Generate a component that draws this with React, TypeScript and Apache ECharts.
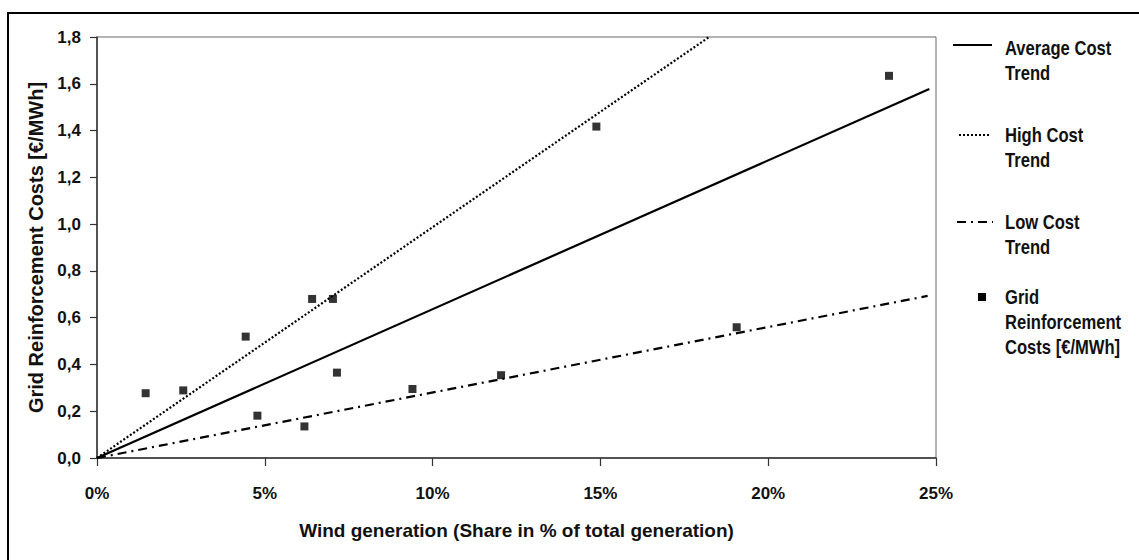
import React, { useEffect, useRef } from "react";
import * as echarts from "echarts";

// Data
const shareX: number[] = [1.45, 2.57, 4.43, 4.78, 6.18, 6.41, 7.03, 7.15, 9.4, 12.04, 14.88, 19.06, 23.6];
const costY: number[] = [0.277, 0.289, 0.519, 0.181, 0.135, 0.68, 0.68, 0.365, 0.295, 0.354, 1.417, 0.559, 1.634];
const averageTrend: number[][] = [[0, 0], [24.8, 1.578]];
const highTrend: number[][] = [[0, 0], [18.24, 1.8]];
const lowTrend: number[][] = [[0, 0], [24.75, 0.693]];
const xTicks: number[] = [0, 5, 10, 15, 20, 25];
const yTicks: number[] = [0, 0.2, 0.4, 0.6, 0.8, 1.0, 1.2, 1.4, 1.6, 1.8];
const legendNames: string[][] = [
  ["Average Cost", "Trend"],
  ["High Cost", "Trend"],
  ["Low Cost", "Trend"],
  ["Grid", "Reinforcement", "Costs [€/MWh]"],
];
const xTitle = "Wind generation (Share in % of total generation)";
const yTitle = "Grid Reinforcement Costs [€/MWh]";

const FONT = "'Liberation Sans', Arial, sans-serif";
const TXT = "#111";
const DOT: number[] = [2, 2];
const DASHDOT: number[] = [9, 5, 2, 5];

export default function App() {
  const ref = useRef<HTMLDivElement>(null);
  useEffect(() => {
    if (!ref.current) return;
    const chart = echarts.init(ref.current, undefined, { renderer: "svg" });
    const points = shareX.map((x, i) => [x, costY[i]]);
    const legendRows = [48, 135, 222, 297];
    const textEl = (t: string, y: number) => ({
      type: "text",
      x: 1005,
      y,
      scaleX: 0.83,
      style: { text: t, font: `bold 20px ${FONT}`, fill: TXT, align: "left", verticalAlign: "middle" },
    });
    const legendGraphics: any[] = [];
    legendNames.forEach((lines, i) => {
      lines.forEach((t, j) => legendGraphics.push(textEl(t, legendRows[i] + j * 25)));
    });
    const lineY = [45, 135, 222, 297];
    legendGraphics.push(
      { type: "line", shape: { x1: 953, y1: lineY[0], x2: 992, y2: lineY[0] }, style: { stroke: "#000", lineWidth: 2 } },
      { type: "line", shape: { x1: 959, y1: lineY[1], x2: 989, y2: lineY[1] }, style: { stroke: "#000", lineWidth: 2, lineDash: DOT } },
      { type: "line", shape: { x1: 957, y1: lineY[2], x2: 993, y2: lineY[2] }, style: { stroke: "#000", lineWidth: 2, lineDash: DASHDOT } },
      { type: "rect", shape: { x: 978, y: lineY[3] - 4, width: 8, height: 8 }, style: { fill: "#000" } },
      { type: "rect", shape: { x: 8, y: 13, width: 1300, height: 700 }, style: { fill: "none", stroke: "#000", lineWidth: 2 }, silent: true }
    );

    chart.setOption({
      animation: false,
      backgroundColor: "#fff",
      grid: {
        left: 97,
        right: 1139 - 936,
        top: 37,
        bottom: 560 - 458,
        show: true,
        borderColor: "#666",
        borderWidth: 1,
        backgroundColor: "transparent",
      },
      xAxis: {
        type: "value",
        min: 0,
        max: 25,
        interval: 5,
        name: xTitle,
        nameLocation: "middle",
        nameGap: 63,
        nameTextStyle: { fontFamily: FONT, fontWeight: "bold", fontSize: 19, color: TXT },
        axisLine: { show: true, lineStyle: { color: "#333", width: 1.5 } },
        axisTick: { show: true, inside: false, length: 8, lineStyle: { color: "#333", width: 1.2 } },
        axisLabel: {
          margin: 27,
          fontFamily: FONT,
          fontWeight: "bold",
          fontSize: 17,
          color: TXT,
          formatter: (v: number) => (xTicks.includes(v) ? `${v}%` : ""),
        },
        splitLine: { show: false },
      },
      yAxis: {
        type: "value",
        min: 0,
        max: 1.8,
        interval: 0.2,
        name: yTitle,
        nameLocation: "middle",
        nameGap: 50,
        nameTextStyle: { fontFamily: FONT, fontWeight: "bold", fontSize: 20, color: TXT },
        axisLine: { show: true, lineStyle: { color: "#333", width: 1.5 } },
        axisTick: { show: true, inside: false, length: 7, lineStyle: { color: "#333", width: 1.2 } },
        axisLabel: {
          margin: 16,
          fontFamily: FONT,
          fontWeight: "bold",
          fontSize: 17,
          color: TXT,
          formatter: (v: number) => {
            const t = yTicks.find((k) => Math.abs(k - v) < 1e-6);
            return t === undefined ? "" : t.toFixed(1).replace(".", ",");
          },
        },
        splitLine: { show: false },
      },
      series: [
        {
          name: "Average Cost Trend",
          type: "line",
          data: averageTrend,
          symbol: "none",
          lineStyle: { color: "#000", width: 2.2, type: "solid" },
        },
        {
          name: "High Cost Trend",
          type: "line",
          data: highTrend,
          symbol: "none",
          lineStyle: { color: "#000", width: 2.2, type: DOT },
        },
        {
          name: "Low Cost Trend",
          type: "line",
          data: lowTrend,
          symbol: "none",
          lineStyle: { color: "#000", width: 2.2, type: DASHDOT },
        },
        {
          name: "Grid Reinforcement Costs [€/MWh]",
          type: "scatter",
          data: points,
          symbol: "rect",
          symbolSize: 8,
          itemStyle: { color: "#000" },
          z: 5,
        },
      ],
      graphic: legendGraphics,
    });
    return () => chart.dispose();
  }, []);
  return (
    <div
      ref={ref}
      style={{ position: "fixed", left: 0, top: 0, width: 1139, height: 560, background: "#fff" }}
    />
  );
}
